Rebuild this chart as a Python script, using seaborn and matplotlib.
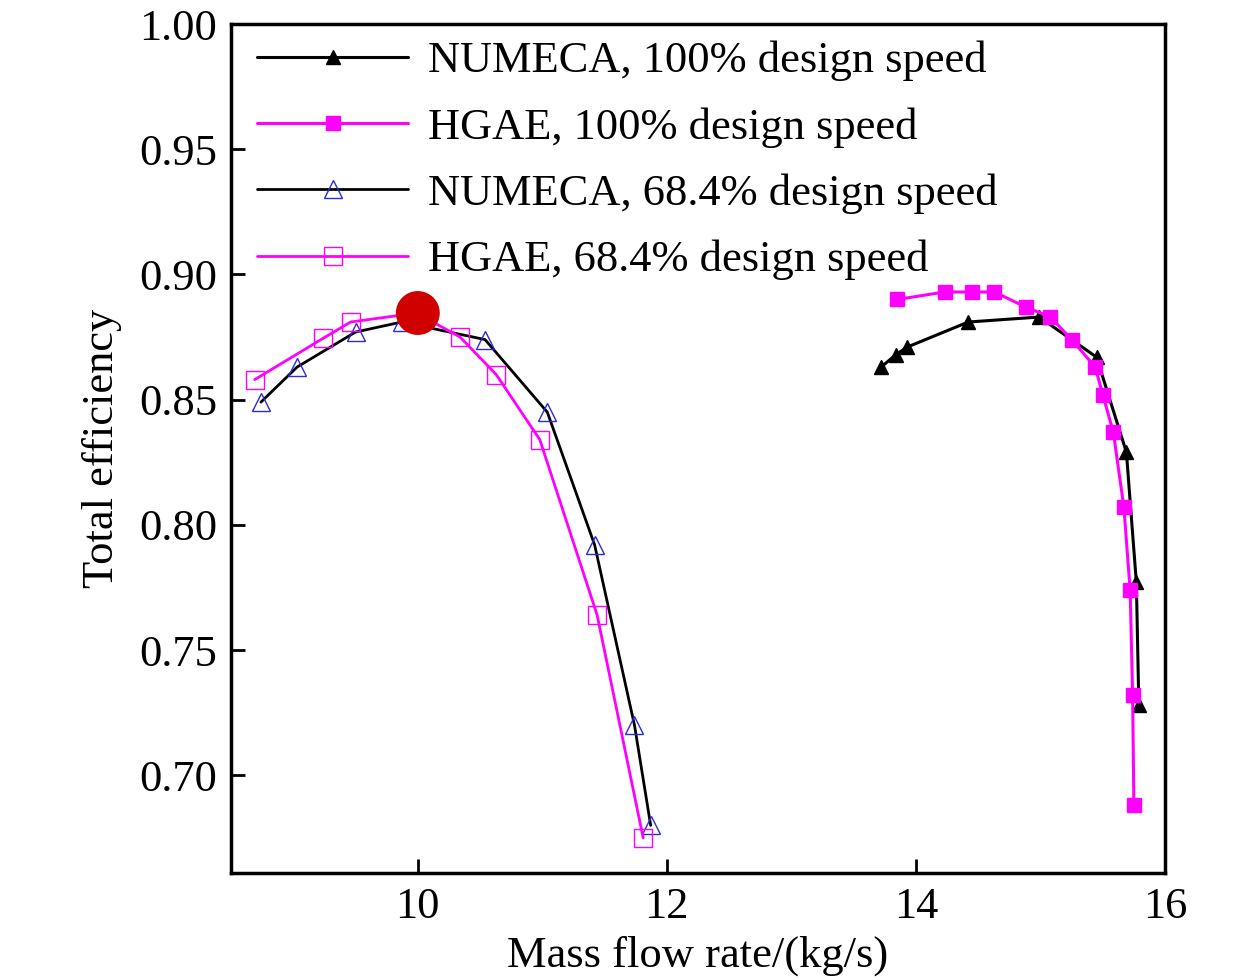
import matplotlib
matplotlib.use("Agg")
import matplotlib.pyplot as plt
import seaborn as sns
import pandas as pd

# ---- data ----
numeca_100_x = [13.72, 13.84, 13.93, 14.42, 14.99, 15.45, 15.69, 15.77, 15.79]
numeca_100_y = [0.863, 0.868, 0.871, 0.881, 0.883, 0.867, 0.829, 0.777, 0.728]

hgae_100_x = [13.85, 14.23, 14.45, 14.63, 14.88, 15.08, 15.25, 15.44, 15.50, 15.585, 15.67, 15.72, 15.74, 15.75]
hgae_100_y = [0.890, 0.893, 0.893, 0.893, 0.887, 0.883, 0.874, 0.863, 0.852, 0.837, 0.807, 0.774, 0.732, 0.688]

numeca_684_x = [8.74, 9.03, 9.50, 9.87, 10.54, 11.04, 11.42, 11.74, 11.87]
numeca_684_y = [0.849, 0.863, 0.877, 0.881, 0.874, 0.845, 0.792, 0.720, 0.680]

hgae_684_x = [8.69, 9.24, 9.46, 9.99, 10.34, 10.63, 10.98, 11.44, 11.81]
hgae_684_y = [0.858, 0.8745, 0.881, 0.8846, 0.875, 0.860, 0.834, 0.764, 0.675]

design_point_x = [10.0]
design_point_y = [0.8846]

labels = ["NUMECA, 100% design speed", "HGAE, 100% design speed",
          "NUMECA, 68.4% design speed", "HGAE, 68.4% design speed"]
x_ticks = [10, 12, 14, 16]
y_ticks = [0.70, 0.75, 0.80, 0.85, 0.90, 0.95, 1.00]

sns.set_theme(style="white")
plt.rcParams['font.family'] = ['Liberation Serif', 'DejaVu Serif']
plt.rcParams['mathtext.fontset'] = 'stix'

fig = plt.figure(figsize=(12.6, 9.8), dpi=100)
ax = fig.add_axes([231/1260, 1 - 873/980, (1165-231)/1260, (873-24)/980])

MAG = "#FF00FF"

def draw(x, y, label, color, lw, marker, ms, mfc, mec, mew):
    df = pd.DataFrame({"x": x, "y": y})
    sns.lineplot(data=df, x="x", y="y", ax=ax, sort=False, estimator=None,
                 color=color, linewidth=lw, marker=marker, markersize=ms,
                 markerfacecolor=mfc, markeredgecolor=mec, markeredgewidth=mew,
                 label=label)

draw(numeca_100_x, numeca_100_y, labels[0], "black", 2.2, "^", 10, "black", "black", 1.0)
draw(hgae_100_x, hgae_100_y, labels[1], MAG, 2.2, "s", 10, MAG, MAG, 1.0)
draw(numeca_684_x, numeca_684_y, labels[2], "black", 2.0, "^", 13, "none", "#2b2bd0", 1.0)
draw(hgae_684_x, hgae_684_y, labels[3], MAG, 2.0, "s", 13, "none", MAG, 1.0)

sns.scatterplot(x=design_point_x, y=design_point_y, ax=ax, s=1000, color="#D00000",
                edgecolor="none", zorder=5, legend=False)

ax.set_xlim(8.5, 16)
ax.set_ylim(0.661, 1.0)
ax.set_xticks(x_ticks)
ax.set_xticklabels([str(t) for t in x_ticks])
ax.set_yticks(y_ticks)
ax.set_yticklabels([f"{t:.2f}" for t in y_ticks])

ax.tick_params(axis='both', direction='in', length=10, width=2, labelsize=32,
               colors='black', pad=10, bottom=True, left=True, top=False, right=False)
for sp in ax.spines.values():
    sp.set_visible(True)
    sp.set_color('black')
    sp.set_linewidth(2.5)

ax.set_xlabel("Mass flow rate/(kg/s)", fontsize=32, color='black', labelpad=6)
ax.set_ylabel("Total efficiency", fontsize=32, color='black', labelpad=12)

leg = ax.legend(loc='upper left', bbox_to_anchor=(0.028, 0.98), frameon=False,
                fontsize=32, handlelength=3.4, handletextpad=0.45, labelspacing=0.58,
                borderaxespad=0, borderpad=0)
for t in leg.get_texts():
    t.set_color('black')

fig.savefig("out.png", dpi=100)
